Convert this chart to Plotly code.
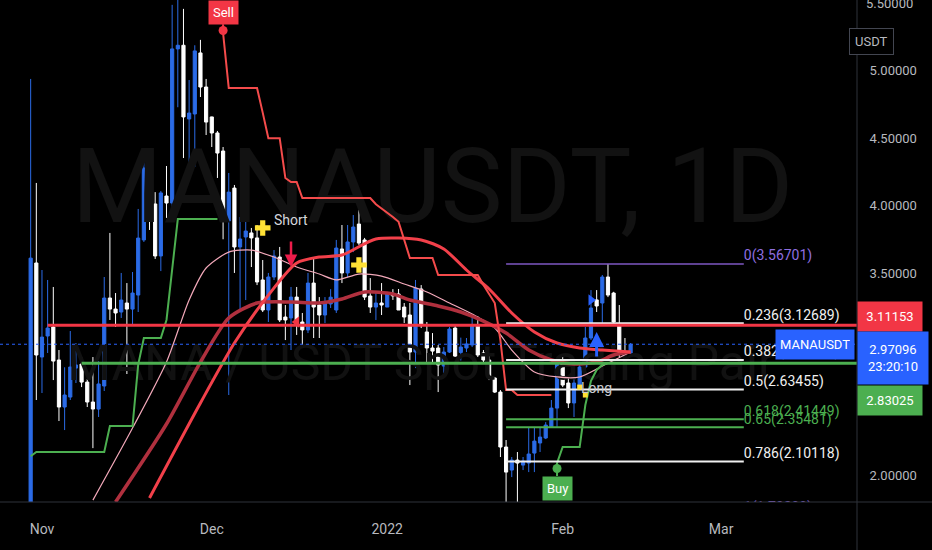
import plotly.graph_objects as go
import pandas as pd

# ---------------- data ----------------
candle_start = "2021-10-30"
opens = [1.55, 3.574, 2.876, 3.032, 3.099, 2.854, 2.505, 2.579, 2.794, 2.824,
         2.690, 2.542, 2.49, 2.661, 3.314, 3.232, 3.21, 3.277, 3.232, 3.336,
         3.745, 4.294, 4.012, 3.626, 4.071, 4.019, 5.163, 5.19, 4.643, 4.68,
         5.133, 4.88, 4.658, 4.539, 4.405, 3.886, 4.13, 3.693, 3.767, 3.797,
         3.76, 3.448, 3.225, 3.47, 3.618, 3.173, 3.166, 3.321, 3.136, 3.077,
         3.425, 3.262, 3.188, 3.27, 3.225, 3.678, 3.50, 3.73, 3.863, 3.745,
         3.329, 3.247, 3.277, 3.247, 3.34, 3.344, 3.247, 3.188, 2.913, 3.381,
         3.062, 2.943, 2.943, 2.809, 2.913, 3.091, 2.91, 2.943, 2.965, 3.114,
         2.906, 2.854, 2.72, 2.616, 2.208, 2.037, 2.111, 2.074, 2.089, 2.163,
         2.238, 2.275, 2.356, 2.497, 2.831, 2.683, 2.535, 2.668, 2.802, 3.017,
         3.30, 3.277, 3.47, 3.351, 3.114, 2.906, 2.906]
highs = [4.94, 4.168, 3.522, 3.448, 3.396, 2.928, 2.80, 3.069, 2.98, 2.876,
         2.713, 2.876, 2.846, 3.47, 3.797, 3.351, 3.50, 3.425, 3.507, 3.975,
         4.331, 4.346, 4.10, 4.108, 4.294, 5.49, 5.90, 5.46, 4.932, 5.19,
         5.23, 4.94, 4.66, 4.554, 4.435, 4.242, 4.153, 3.915, 4.064, 3.834,
         3.856, 3.596, 3.50, 3.67, 3.693, 3.262, 3.396, 3.396, 3.203, 3.50,
         3.618, 3.321, 3.321, 3.38, 3.745, 3.856, 3.856, 3.93, 3.967, 3.76,
         3.462, 3.359, 3.425, 3.351, 3.38, 3.381, 3.277, 3.277, 3.448, 3.41,
         3.136, 3.054, 2.965, 2.95, 3.099, 3.106, 3.02, 3.017, 3.188, 3.18,
         2.928, 2.891, 2.728, 2.631, 2.26, 2.134, 2.171, 2.134, 2.356, 2.349,
         2.356, 2.393, 2.557, 2.869, 2.891, 2.72, 2.757, 2.817, 3.099, 3.373,
         3.373, 3.485, 3.567, 3.36, 3.262, 3.017, 2.98]
lows = [1.40, 2.557, 2.609, 2.906, 2.705, 2.401, 2.334, 2.557, 2.683, 2.653,
        2.505, 2.20, 2.431, 2.624, 3.151, 3.099, 3.166, 2.75, 3.121, 3.21,
        3.73, 3.819, 3.604, 3.514, 3.908, 3.93, 4.73, 4.353, 4.287, 4.287,
        4.806, 4.524, 4.435, 4.205, 3.75, 2.594, 3.5, 3.225, 3.299, 3.544,
        3.41, 3.21, 3.136, 3.448, 3.136, 3.002, 2.928, 3.04, 2.965, 3.054,
        3.017, 3.017, 3.128, 3.24, 3.203, 3.425, 3.47, 3.655, 3.707, 3.299,
        3.203, 3.151, 3.188, 3.247, 3.30, 3.225, 3.128, 2.668, 2.794, 3.091,
        2.831, 2.831, 2.616, 2.757, 2.906, 2.876, 2.85, 2.913, 2.95, 2.876,
        2.839, 2.705, 2.609, 2.134, 1.75, 1.985, 1.70209, 2.037, 2.022, 2.022,
        2.171, 2.267, 2.356, 2.356, 2.653, 2.497, 2.431, 2.653, 2.728, 3.002,
        3.21, 3.128, 3.321, 3.128, 2.876, 2.817, 2.898]
closes = [3.61, 2.891, 3.024, 3.091, 2.846, 2.505, 2.594, 2.802, 2.817, 2.690,
          2.542, 2.49, 2.676, 3.314, 3.232, 3.203, 3.299, 3.232, 3.351, 3.759,
          4.279, 4.019, 3.626, 4.094, 4.019, 5.163, 5.19, 4.658, 4.687, 5.148,
          4.88, 4.62, 4.539, 4.39, 3.886, 4.10, 3.693, 3.752, 3.811, 3.76,
          3.433, 3.225, 3.47, 3.626, 3.151, 3.151, 3.321, 3.114, 3.077, 3.425,
          3.247, 3.188, 3.277, 3.32, 3.685, 3.50, 3.73, 3.841, 3.722, 3.321,
          3.247, 3.277, 3.262, 3.344, 3.33, 3.225, 3.173, 2.913, 3.388, 3.114,
          2.943, 2.92, 2.817, 2.913, 3.084, 2.883, 2.95, 2.973, 3.114, 2.891,
          2.854, 2.728, 2.616, 2.208, 2.022, 2.111, 2.089, 2.104, 2.156, 2.252,
          2.282, 2.371, 2.497, 2.839, 2.668, 2.535, 2.683, 2.802, 3.017, 3.24,
          3.255, 3.47, 3.336, 3.136, 2.913, 2.883, 2.97096]

# moving averages (read at sample dates)
ema_a_dates = ["2021-11-20", "2021-11-29", "2021-12-05", "2021-12-11", "2021-12-16", "2021-12-20",
               "2021-12-24", "2021-12-30", "2022-01-07", "2022-01-11", "2022-01-15", "2022-01-19",
               "2022-01-23", "2022-01-27", "2022-01-31", "2022-02-04", "2022-02-08", "2022-02-13"]
ema_a = [1.83, 2.535, 2.98, 3.336, 3.574, 3.618, 3.633, 3.752, 3.745, 3.678, 3.522, 3.381,
         3.203, 3.062, 2.98, 2.943, 2.928, 2.913]
ema_b_dates = ["2021-11-14", "2021-11-23", "2021-11-29", "2021-12-04", "2021-12-09", "2021-12-15",
               "2021-12-20", "2021-12-24", "2021-12-28", "2022-01-02", "2022-01-05", "2022-01-10",
               "2022-01-14", "2022-01-18", "2022-01-22", "2022-01-26", "2022-01-30", "2022-02-03",
               "2022-02-07", "2022-02-10", "2022-02-13"]
ema_b = [1.80, 2.379, 2.839, 3.166, 3.277, 3.284, 3.277, 3.307, 3.359, 3.344, 3.299, 3.255,
         3.21, 3.143, 3.054, 2.928, 2.854, 2.824, 2.839, 2.891, 2.913]
ema_c_dates = ["2021-11-10", "2021-11-17", "2021-11-23", "2021-11-27", "2021-11-30", "2021-12-04",
               "2021-12-08", "2021-12-12", "2021-12-16", "2021-12-20", "2021-12-23", "2021-12-27",
               "2021-12-31", "2022-01-04", "2022-01-08", "2022-01-12", "2022-01-16", "2022-01-20",
               "2022-01-23", "2022-01-27", "2022-01-31", "2022-02-04", "2022-02-08", "2022-02-13"]
ema_c = [1.814, 2.349, 2.839, 3.30, 3.537, 3.655, 3.67, 3.618, 3.544, 3.492, 3.448, 3.492,
         3.477, 3.418, 3.359, 3.277, 3.195, 3.091, 2.928, 2.765, 2.728, 2.728, 2.809, 2.913]

# trailing stop lines (daily)
st_green1_start = "2021-10-30"
st_green1 = [2.14, 2.171, 2.171, 2.171, 2.171, 2.171, 2.171, 2.171, 2.171, 2.171, 2.171, 2.171,
             2.171, 2.171, 2.364, 2.364, 2.364, 2.364, 2.364, 2.82, 3.017, 3.017, 3.017, 3.017,
             3.151, 3.52, 3.90, 3.90, 3.90, 3.90, 3.90, 3.90, 3.90, 3.90]
st_red_start = "2021-12-03"
st_red = [5.28, 4.873, 4.873, 4.873, 4.873, 4.873, 4.873, 4.69, 4.50, 4.50, 4.50, 4.205,
          4.175, 4.175, 4.056, 4.056, 4.056, 4.056, 4.056, 4.056, 4.056, 4.056, 4.056, 4.056,
          4.056, 4.056, 4.056, 4.01, 3.98, 3.95, 3.915, 3.88, 3.745, 3.611, 3.611, 3.611,
          3.611, 3.611, 3.485, 3.485, 3.485, 3.485, 3.485, 3.485, 3.485, 3.485, 3.41, 3.344,
          3.277, 3.0, 2.631, 2.631, 2.594, 2.594, 2.594, 2.594, 2.594, 2.594, 2.594]
st_green2_start = "2022-01-31"
st_green2 = [2.089, 2.208, 2.208, 2.208, 2.208, 2.52, 2.70, 2.78, 2.817, 2.831, 2.831, 2.831,
             2.831, 2.831]

# horizontal levels
res_start, res_level = "2021-11-02", 3.11153
sup_start, sup_level = "2021-11-08", 2.83025
view_start, view_end = "2021-10-24 14:00", "2022-03-25 00:00"

# fibonacci
fib_start, fib_end = "2022-01-22", "2022-03-05"
fib_high, fib_low = 3.56701, 1.70209
fib_ratios = ["0", "0.236", "0.382", "0.5", "0.618", "0.65", "0.786", "1"]

# signals
cross_dates = ["2021-12-10", "2021-12-27"]
cross_prices = [3.834, 3.559]
short_date, short_price = "2021-12-15", 3.893
short_arrow_date, short_arrow_price = "2021-12-15", 3.544
short_tri_date, short_tri_price = "2021-12-16", 3.136
long_tri_date, long_tri_price = "2022-02-06", 3.299
long_arrow_date, long_arrow_price = "2022-02-07", 3.062
long_date, long_price = "2022-02-07", 2.646
sq_dates = ["2022-02-04", "2022-02-05"]
sq_prices = [2.653, 2.594]

month_ticks = ["2021-11-01", "2021-12-01", "2022-01-01", "2022-02-01", "2022-03-01"]
month_labels = ["Nov", "Dec", "2022", "Feb", "Mar"]
price_ticks = [2.0, 2.5, 3.0, 3.5, 4.0, 4.5, 5.0, 5.5]

# ---------------- style ----------------
FONT = "Roboto, Liberation Sans, sans-serif"
BLUE_C = "#2b6be6"
BLUE = "#2962ff"
RED = "#f23645"
GREEN = "#4caf50"
PURPLE = "#7e57c2"
WHITE = "#f0f0f0"
AXIS_TXT = "#b7b9bf"
fib_colors = [PURPLE, WHITE, WHITE, WHITE, GREEN, GREEN, WHITE, PURPLE]
fib_text_colors = ["#8f6fe0", WHITE, WHITE, WHITE, GREEN, GREEN, WHITE, "#8f6fe0"]

dates = pd.date_range(candle_start, periods=len(opens), freq="D")
g1_dates = pd.date_range(st_green1_start, periods=len(st_green1), freq="D")
r_dates = pd.date_range(st_red_start, periods=len(st_red), freq="D")
g2_dates = pd.date_range(st_green2_start, periods=len(st_green2), freq="D")

fig = go.Figure()

# watermark (drawn first so it stays behind everything)
fig.add_trace(go.Scatter(x=["2022-01-09"], y=[4.07], mode="text", text=["MANAUSDT, 1D"],
                         textfont=dict(family=FONT, size=104, color="#121212"),
                         hoverinfo="skip", showlegend=False))
fig.add_trace(go.Scatter(x=["2022-01-07"], y=[2.80], mode="text", text=["MANA / USDT Spot Trading Pair"],
                         textfont=dict(family=FONT, size=50, color="#111111"),
                         hoverinfo="skip", showlegend=False))

# candles
fig.add_trace(go.Candlestick(
    x=dates, open=opens, high=highs, low=lows, close=closes,
    increasing=dict(line=dict(color=BLUE_C, width=1), fillcolor=BLUE_C),
    decreasing=dict(line=dict(color="#ffffff", width=1), fillcolor="#ffffff"),
    whiskerwidth=0, hoverinfo="skip", showlegend=False))

# moving averages
fig.add_trace(go.Scatter(x=ema_c_dates, y=ema_c, mode="lines",
                         line=dict(color="#f3a9ba", width=1.2, shape="spline", smoothing=0.7),
                         hoverinfo="skip", showlegend=False))
fig.add_trace(go.Scatter(x=ema_b_dates, y=ema_b, mode="lines",
                         line=dict(color="#b0303e", width=3.5, shape="spline", smoothing=0.7),
                         hoverinfo="skip", showlegend=False))
fig.add_trace(go.Scatter(x=ema_a_dates, y=ema_a, mode="lines",
                         line=dict(color="#f2404a", width=3, shape="spline", smoothing=0.7),
                         hoverinfo="skip", showlegend=False))

# trailing stops
for xs, ys, col in [(g1_dates, st_green1, GREEN), (r_dates, st_red, "#f44b4b"), (g2_dates, st_green2, GREEN)]:
    fig.add_trace(go.Scatter(x=xs, y=ys, mode="lines", line=dict(color=col, width=2),
                             hoverinfo="skip", showlegend=False))

# fib lines
fib_levels = [fib_high - float(r) * (fib_high - fib_low) for r in fib_ratios]
for lvl, col in zip(fib_levels, fib_colors):
    fig.add_trace(go.Scatter(x=[fib_start, fib_end], y=[lvl, lvl], mode="lines",
                             line=dict(color=col, width=2 if col != PURPLE else 1.5),
                             hoverinfo="skip", showlegend=False))
fig.add_trace(go.Scatter(x=[fib_end] * len(fib_levels), y=fib_levels, mode="text",
                         text=[f"{r}({v:.5f})" for r, v in zip(fib_ratios, fib_levels)],
                         textposition="top right",
                         textfont=dict(family=FONT, size=14, color=fib_text_colors),
                         hoverinfo="skip", showlegend=False))

# support / resistance
fig.add_trace(go.Scatter(x=[res_start, view_end], y=[res_level, res_level], mode="lines",
                         line=dict(color=RED, width=3), hoverinfo="skip", showlegend=False))
fig.add_trace(go.Scatter(x=[sup_start, view_end], y=[sup_level, sup_level], mode="lines",
                         line=dict(color=GREEN, width=3), hoverinfo="skip", showlegend=False))

# signal markers
fig.add_trace(go.Scatter(x=cross_dates, y=cross_prices, mode="markers",
                         marker=dict(symbol="cross", size=13, color="#ffe135"),
                         hoverinfo="skip", showlegend=False))
fig.add_trace(go.Scatter(x=sq_dates, y=sq_prices, mode="markers",
                         marker=dict(symbol="square", size=5, color="#ffe135"),
                         hoverinfo="skip", showlegend=False))
fig.add_trace(go.Scatter(x=[short_tri_date], y=[short_tri_price], mode="markers",
                         marker=dict(symbol="triangle-left", size=10, color=RED),
                         hoverinfo="skip", showlegend=False))
fig.add_trace(go.Scatter(x=[long_tri_date], y=[long_tri_price], mode="markers",
                         marker=dict(symbol="triangle-right", size=10, color=BLUE),
                         hoverinfo="skip", showlegend=False))
fig.add_trace(go.Scatter(x=[r_dates[0]], y=[st_red[0] + 0.02], mode="markers",
                         marker=dict(symbol="circle", size=9, color=RED),
                         hoverinfo="skip", showlegend=False))
fig.add_trace(go.Scatter(x=[g2_dates[0]], y=[st_green2[0] - 0.04], mode="markers",
                         marker=dict(symbol="circle", size=9, color=GREEN),
                         hoverinfo="skip", showlegend=False))

last_close = closes[-1]
annotations = [
    dict(x=r_dates[0], y=st_red[0], xref="x", yref="y", text="Sell", showarrow=True,
         ax=0, ay=-21, arrowhead=0, arrowwidth=2, arrowcolor=RED, standoff=0,
         bgcolor=RED, borderpad=4, font=dict(family=FONT, size=13, color="#ffffff")),
    dict(x=g2_dates[0], y=st_green2[0], xref="x", yref="y", text="Buy", showarrow=True,
         ax=0, ay=25, arrowhead=0, arrowwidth=2, arrowcolor=GREEN, standoff=0,
         bgcolor=GREEN, borderpad=4, font=dict(family=FONT, size=13, color="#ffffff")),
    dict(x=short_date, y=short_price, xref="x", yref="y", text="Short", showarrow=False,
         font=dict(family=FONT, size=14, color="#d4d6dc")),
    dict(x=long_date, y=long_price, xref="x", yref="y", text="Long", showarrow=False,
         font=dict(family=FONT, size=14, color="#c9cbd1")),
    dict(x=short_arrow_date, y=short_arrow_price, xref="x", yref="y", text="", showarrow=True,
         ax=0, ay=-27, arrowhead=2, arrowsize=1, arrowwidth=2.5, arrowcolor="#ec1c4a"),
    dict(x=long_arrow_date, y=long_arrow_price, xref="x", yref="y", text="", showarrow=True,
         ax=0, ay=26, arrowhead=2, arrowsize=1, arrowwidth=3, arrowcolor=BLUE),
    dict(x=855 / 857, y=last_close, xref="paper", yref="y", xanchor="right", text="MANAUSDT",
         showarrow=False, bgcolor=BLUE, borderpad=4, height=21,
         font=dict(family=FONT, size=13, color="#ffffff")),
    # top price label, partly beyond the frame as in the reference
    dict(x=1.0, y=price_ticks[-1], xref="paper", yref="y", xanchor="left", xshift=7,
         text=f"{price_ticks[-1]:.5f}", showarrow=False,
         font=dict(family=FONT, size=13, color=AXIS_TXT)),
    dict(x=1.0, y=res_level, xref="paper", yref="y", xanchor="left", yshift=9, text=f"{res_level:.5f}",
         showarrow=False, bgcolor=RED, borderpad=4, width=56, height=21,
         font=dict(family=FONT, size=13, color="#ffffff")),
    dict(x=1.0, y=last_close, xref="paper", yref="y", xanchor="left", yshift=-14,
         text=f"{last_close:.5f}<br>23:20:10", showarrow=False, bgcolor=BLUE, borderpad=4,
         width=62, height=44, font=dict(family=FONT, size=13, color="#ffffff")),
    dict(x=1.0, y=sup_level, xref="paper", yref="y", xanchor="left", yshift=-37, text=f"{sup_level:.5f}",
         showarrow=False, bgcolor=GREEN, borderpad=4, width=56, height=21,
         font=dict(family=FONT, size=13, color="#ffffff")),
    dict(x=894 / 857, y=1 - 28 / 502, xref="paper", yref="paper", text="USDT", showarrow=False,
         bgcolor="#000000", bordercolor="#434651", borderwidth=1, borderpad=5,
         font=dict(family=FONT, size=13, color=AXIS_TXT)),
]

shapes = [
    dict(type="line", xref="paper", yref="paper", x0=1, x1=1, y0=-0.1, y1=1.0,
         line=dict(color="#2f323b", width=1)),
    dict(type="line", xref="paper", yref="paper", x0=0, x1=1.1, y0=0, y1=0,
         line=dict(color="#2f323b", width=1)),
    dict(type="line", xref="paper", yref="y", x0=0, x1=1, y0=last_close, y1=last_close,
         line=dict(color=BLUE, width=1, dash="dot")),
]

fig.update_layout(
    width=932, height=550, margin=dict(l=0, r=75, t=0, b=48, autoexpand=False),
    paper_bgcolor="#000000", plot_bgcolor="#000000", showlegend=False, boxgap=0.2,
    annotations=annotations, shapes=shapes,
    xaxis=dict(type="date", range=[view_start, view_end], tickvals=month_ticks, ticktext=month_labels,
               showgrid=False, zeroline=False, showline=False, rangeslider=dict(visible=False),
               ticks="outside", ticklen=14, tickcolor="rgba(0,0,0,0)", automargin=False,
               tickfont=dict(family=FONT, size=14, color=AXIS_TXT)),
    yaxis=dict(side="right", range=[1.80, 5.526], tickvals=price_ticks,
               ticktext=[f"{v:.5f}" for v in price_ticks], showgrid=False, zeroline=False,
               showline=False, ticks="outside", ticklen=9, tickcolor="rgba(0,0,0,0)", automargin=False,
               tickfont=dict(family=FONT, size=13, color=AXIS_TXT)),
)

fig.write_html("out.html", config={"displayModeBar": False},
               post_script="document.body.style.margin='0';document.body.style.background='#000';")
